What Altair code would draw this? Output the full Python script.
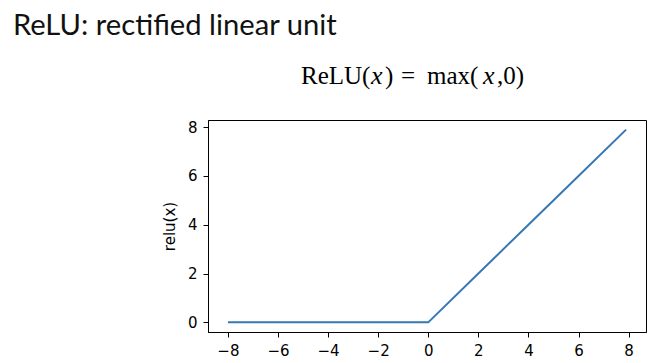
import altair as alt
import pandas as pd

# data
x_vals = [-8, -6, -4, -2, 0, 2, 4, 6, 7.9]
relu_vals = [0, 0, 0, 0, 0, 2, 4, 6, 7.9]
x_ticks = [-8, -6, -4, -2, 0, 2, 4, 6, 8]
y_ticks = [0, 2, 4, 6, 8]
slide_title = "ReLU: rectified linear unit"
formula_plain = ["ReLU(", ")", "=", "max(", ",0)"]
formula_italic = ["x", "x"]

# layout (pixels relative to plot area)
title_pos = (-195, -85)
formula_plain_x = [93, 177, 193, 219, 289]
formula_italic_x = [163, 275]
formula_y = -36

df = pd.DataFrame({"x": x_vals, "relu": relu_vals})

axis_style = dict(
    grid=False, tickSize=5, format="d",
    domainColor="black", tickColor="black", labelColor="black", titleColor="black",
    labelFont="DejaVu Sans", titleFont="DejaVu Sans", labelFontSize=15, titleFontSize=15,
    titleFontWeight="normal", domainWidth=1, tickWidth=1,
)

line = alt.Chart(df).mark_line(color="#3777b4", strokeWidth=2, clip=False).encode(
    x=alt.X(
        "x:Q",
        scale=alt.Scale(domain=[-8.795, 8.695], nice=False, zero=False),
        axis=alt.Axis(values=x_ticks, title=None, labelPadding=6, **axis_style),
    ),
    y=alt.Y(
        "relu:Q",
        scale=alt.Scale(domain=[-0.395, 8.295], nice=False, zero=False),
        axis=alt.Axis(values=y_ticks, title="relu(x)", labelPadding=6, titlePadding=10, **axis_style),
    ),
)

title_df = pd.DataFrame({"t": [slide_title], "px": [title_pos[0]], "py": [title_pos[1]]})
title_layer = alt.Chart(title_df).mark_text(
    font="Lato", fontSize=29.2, align="left", baseline="alphabetic", color="#111111"
).encode(
    x=alt.X("px:Q", scale=None), y=alt.Y("py:Q", scale=None), text="t:N"
)

fp_df = pd.DataFrame({"t": formula_plain, "px": formula_plain_x, "py": [formula_y] * len(formula_plain)})
fp_layer = alt.Chart(fp_df).mark_text(
    font="Liberation Serif", fontSize=25, align="left", baseline="alphabetic", color="black"
).encode(
    x=alt.X("px:Q", scale=None), y=alt.Y("py:Q", scale=None), text="t:N"
)

fi_df = pd.DataFrame({"t": formula_italic, "px": formula_italic_x, "py": [formula_y] * len(formula_italic)})
fi_layer = alt.Chart(fi_df).mark_text(
    font="Liberation Serif", fontSize=26, fontStyle="italic", align="left",
    baseline="alphabetic", color="black"
).encode(
    x=alt.X("px:Q", scale=None), y=alt.Y("py:Q", scale=None), text="t:N"
)

chart = alt.layer(line, title_layer, fp_layer, fi_layer).resolve_scale(
    x="independent", y="independent"
).properties(
    width=438,
    height=212,
    autosize=alt.AutoSizeParams(type="none"),
    padding={"left": 200, "top": 112, "right": 1, "bottom": 30},
    background="white",
).configure_view(
    stroke="black", strokeWidth=1
)

chart.save("out.html", embed_options={"renderer": "svg", "actions": False})
